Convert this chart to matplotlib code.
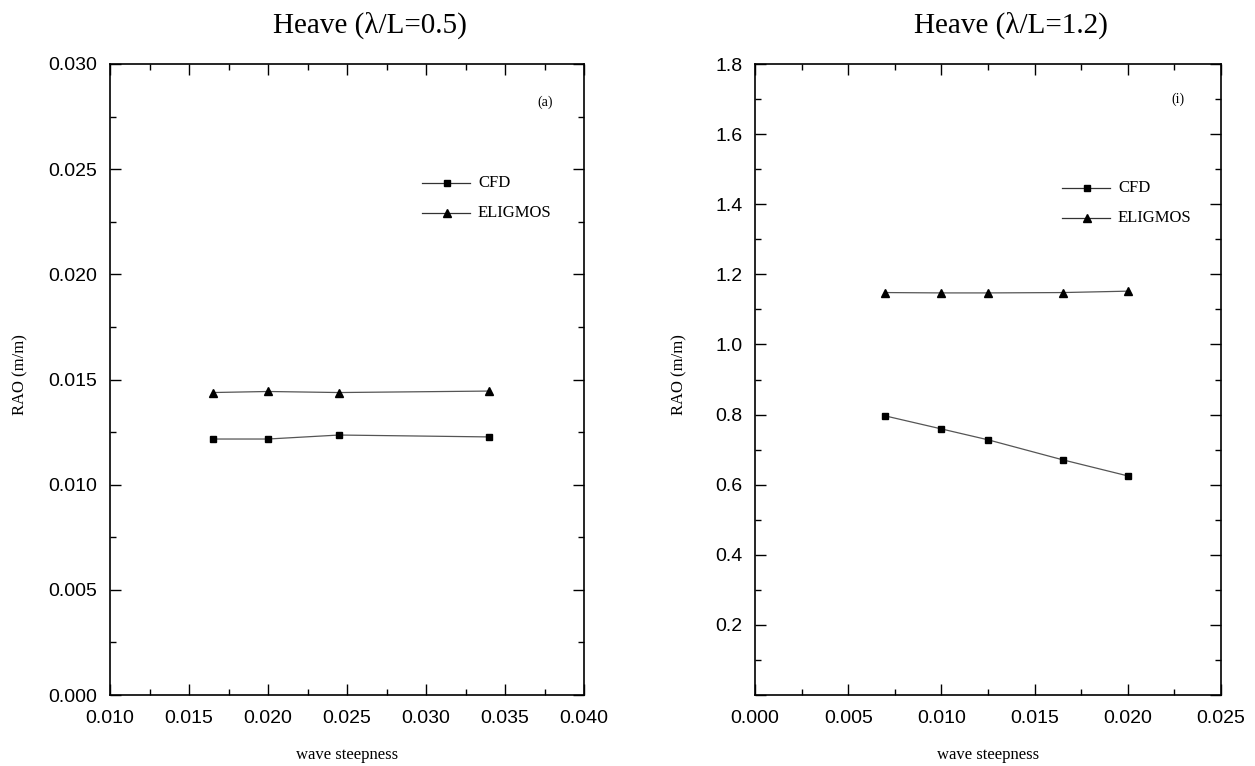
import matplotlib
matplotlib.use("Agg")
import matplotlib.pyplot as plt
from matplotlib.ticker import MultipleLocator, FuncFormatter
from matplotlib.lines import Line2D

# Data
steep_a = [0.0165, 0.020, 0.0245, 0.034]
cfd_a = [0.01217, 0.01217, 0.01236, 0.01227]
elig_a = [0.01438, 0.01443, 0.01438, 0.01445]

steep_i = [0.007, 0.010, 0.0125, 0.0165, 0.020]
cfd_i = [0.796, 0.759, 0.728, 0.671, 0.625]
elig_i = [1.148, 1.147, 1.147, 1.148, 1.152]

titles = ["Heave (\u03bb/L=0.5)", "Heave (\u03bb/L=1.2)"]
panel_tags = ["(a)", "(i)"]
series_names = ["CFD", "ELIGMOS"]

W, H = 1255, 766
fig = plt.figure(figsize=(W / 100, H / 100), dpi=100)

serif = "Liberation Serif"
sans = "Liberation Sans"

def ax_rect(x0, x1, y0, y1):
    return [x0 / W, 1 - y1 / H, (x1 - x0) / W, (y1 - y0) / H]

axA = fig.add_axes(ax_rect(110, 584, 64, 695))
axI = fig.add_axes(ax_rect(755, 1221, 64, 695))

line_kw = dict(color="#555555", lw=0.9)

def style(ax):
    ax.tick_params(which="both", direction="in", top=True, right=True,
                   labelsize=14, width=1.0)
    ax.tick_params(which="major", length=8)
    ax.tick_params(which="minor", length=4)
    ax.tick_params(axis="x", which="major", pad=11)
    ax.tick_params(axis="y", which="major", pad=9)
    for lab in ax.get_xticklabels() + ax.get_yticklabels():
        lab.set_fontfamily(sans)
    for s in ax.spines.values():
        s.set_linewidth(1.2)

# Panel (a)
axA.plot(steep_a, cfd_a, marker="s", ms=4.5, mfc="black", mec="black", **line_kw)
axA.plot(steep_a, elig_a, marker="^", ms=6, mfc="black", mec="black", **line_kw)
axA.set_xlim(0.010, 0.040)
axA.set_ylim(0.0, 0.030)
axA.xaxis.set_major_locator(MultipleLocator(0.005))
axA.xaxis.set_minor_locator(MultipleLocator(0.0025))
axA.yaxis.set_major_locator(MultipleLocator(0.005))
axA.yaxis.set_minor_locator(MultipleLocator(0.0025))
axA.xaxis.set_major_formatter(FuncFormatter(lambda v, p: f"{v:.3f}"))
axA.yaxis.set_major_formatter(FuncFormatter(lambda v, p: f"{v:.3f}"))
style(axA)

# Panel (i)
axI.plot(steep_i, cfd_i, marker="s", ms=4.5, mfc="black", mec="black", **line_kw)
axI.plot(steep_i, elig_i, marker="^", ms=6, mfc="black", mec="black", **line_kw)
axI.set_xlim(0.0, 0.025)
axI.set_ylim(0.0, 1.8)
axI.xaxis.set_major_locator(MultipleLocator(0.005))
axI.xaxis.set_minor_locator(MultipleLocator(0.0025))
axI.yaxis.set_major_locator(MultipleLocator(0.2))
axI.yaxis.set_minor_locator(MultipleLocator(0.1))
axI.xaxis.set_major_formatter(FuncFormatter(lambda v, p: f"{v:.3f}"))
axI.yaxis.set_major_formatter(FuncFormatter(lambda v, p: "" if abs(v) < 1e-9 else f"{v:.1f}"))
style(axI)

# Titles and labels
for ax, t, tag, tagpos, ylx in [(axA, titles[0], panel_tags[0], (545, 102), 20),
                                (axI, titles[1], panel_tags[1], (1178, 99), 679)]:
    pos = ax.get_position()
    cx = (pos.x0 + pos.x1) / 2
    fig.text(cx + 0.018, 1 - 25 / H, t, ha="center", va="center", fontsize=21, family=serif)
    fig.text(ylx / W, 1 - 375 / H, "RAO (m/m)", rotation=90, ha="center", va="center",
             fontsize=12, family=serif)
    fig.text(cx, 1 - 755 / H, "wave steepness", ha="center", va="center",
             fontsize=12, family=serif)
    fig.text(tagpos[0] / W, 1 - tagpos[1] / H, tag, ha="center", va="center",
             fontsize=10, family=serif)

# Legends (manual, Origin-style)
def legend(x0, ys):
    markers = [("s", 4), ("^", 5.5)]
    for (m, ms), y, name in zip(markers, ys, series_names):
        yf = 1 - y / H
        fig.add_artist(Line2D([x0 / W, (x0 + 48) / W], [yf, yf], color="#333333", lw=0.9))
        fig.add_artist(Line2D([(x0 + 25) / W], [yf], marker=m, ms=ms, color="black", lw=0))
        fig.text((x0 + 56) / W, yf, name, ha="left", va="center", fontsize=12, family=serif)

legend(422, [183, 213])
legend(1062, [188, 218])

fig.savefig("out.png", dpi=100)
